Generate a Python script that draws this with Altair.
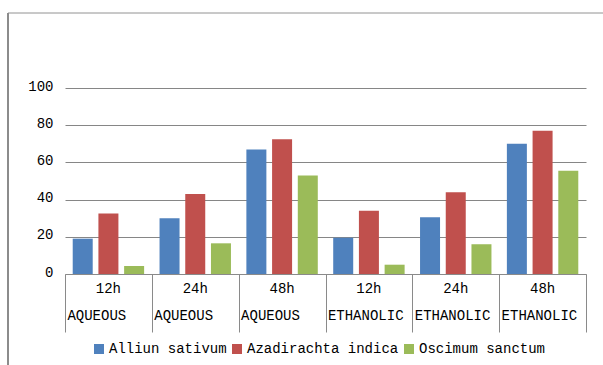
import altair as alt
import pandas as pd

# Extract duration / solvent groups along the x axis
hours = ["12h", "24h", "48h", "12h", "24h", "48h"]
extracts = ["AQUEOUS", "AQUEOUS", "AQUEOUS", "ETHANOLIC", "ETHANOLIC", "ETHANOLIC"]
groups = [f"{h} {e}" for h, e in zip(hours, extracts)]

species = ["Alliun sativum", "Azadirachta indica", "Oscimum sanctum"]
colors = ["#4F81BD", "#C0504D", "#9BBB59"]

# Values per species, one per group
alliun = [19, 30, 67, 19.5, 30.5, 70]
azadirachta = [32.5, 43, 72.5, 34, 44, 77]
oscimum = [4.3, 16.5, 53, 5, 16, 55.5]

rows = []
for sp, vals in zip(species, [alliun, azadirachta, oscimum]):
    for g, v in zip(groups, vals):
        rows.append({"group": g, "species": sp, "value": v})
df = pd.DataFrame(rows)

labels_df = pd.DataFrame({"group": groups, "hour": hours, "extract": extracts})

FONT = "Liberation Mono"
W, H = 521, 186

x_enc = alt.X(
    "group:N",
    sort=groups,
    scale=alt.Scale(paddingInner=0, paddingOuter=0),
    axis=alt.Axis(
        title=None,
        labels=False,
        tickBand="extent",
        tickSize=58,
        tickColor="#8a8a8a",
        domainColor="#8a8a8a",
        grid=False,
    ),
)

bars = alt.Chart(df).mark_bar().encode(
    x=x_enc,
    xOffset=alt.XOffset(
        "species:N",
        sort=species,
        scale=alt.Scale(paddingInner=0.222, paddingOuter=0.3),
    ),
    y=alt.Y(
        "value:Q",
        scale=alt.Scale(domain=[0, 100]),
        axis=alt.Axis(
            title=None,
            values=[0, 20, 40, 60, 80, 100],
            grid=True,
            gridColor="#868686",
            domain=False,
            ticks=False,
            labelPadding=12,
            labelFont=FONT,
            labelFontSize=14,
            labelColor="#000000",
            labelOffset=-2,
        ),
    ),
    color=alt.Color(
        "species:N",
        sort=species,
        scale=alt.Scale(domain=species, range=colors),
        legend=alt.Legend(
            title=None,
            orient="none",
            direction="horizontal",
            legendX=27,
            legendY=254,
            symbolType="square",
            symbolSize=100,
            symbolStrokeWidth=0,
            symbolOpacity=1,
            labelFont=FONT,
            labelFontSize=14,
            labelColor="#000000",
            labelOffset=3,
            columnPadding=3,
            padding=0,
        ),
    ),
)

hour_text = alt.Chart(labels_df).mark_text(
    font=FONT, fontSize=14, color="#000000", baseline="middle"
).encode(
    x=alt.X("group:N", sort=groups),
    y=alt.value(201),
    text="hour:N",
)

extract_text = alt.Chart(labels_df).mark_text(
    font=FONT, fontSize=14, color="#000000", baseline="middle", align="left", dx=-41
).encode(
    x=alt.X("group:N", sort=groups),
    y=alt.value(228),
    text="extract:N",
)

# Outer chart frame (left and top edges)
frame_top = alt.Chart(labels_df).mark_rule(color="#c8c8c8", strokeWidth=1).encode(
    x=alt.value(-57), x2=alt.value(603 - 65), y=alt.value(-75)
)
frame_left = alt.Chart(labels_df).mark_rule(color="#8c8c8c", strokeWidth=1.5).encode(
    x=alt.value(-57), y=alt.value(-75), y2=alt.value(365 - 88)
)

chart = (
    alt.layer(frame_top, frame_left, bars, hour_text, extract_text)
    .properties(
        width=W,
        height=H,
        autosize=alt.AutoSizeParams(type="none"),
        padding={"left": 65, "top": 88, "right": 17, "bottom": 91},
        background="#ffffff",
    )
    .configure_view(stroke=None)
)

chart.save("out.html", embed_options={"renderer": "svg", "actions": False})
